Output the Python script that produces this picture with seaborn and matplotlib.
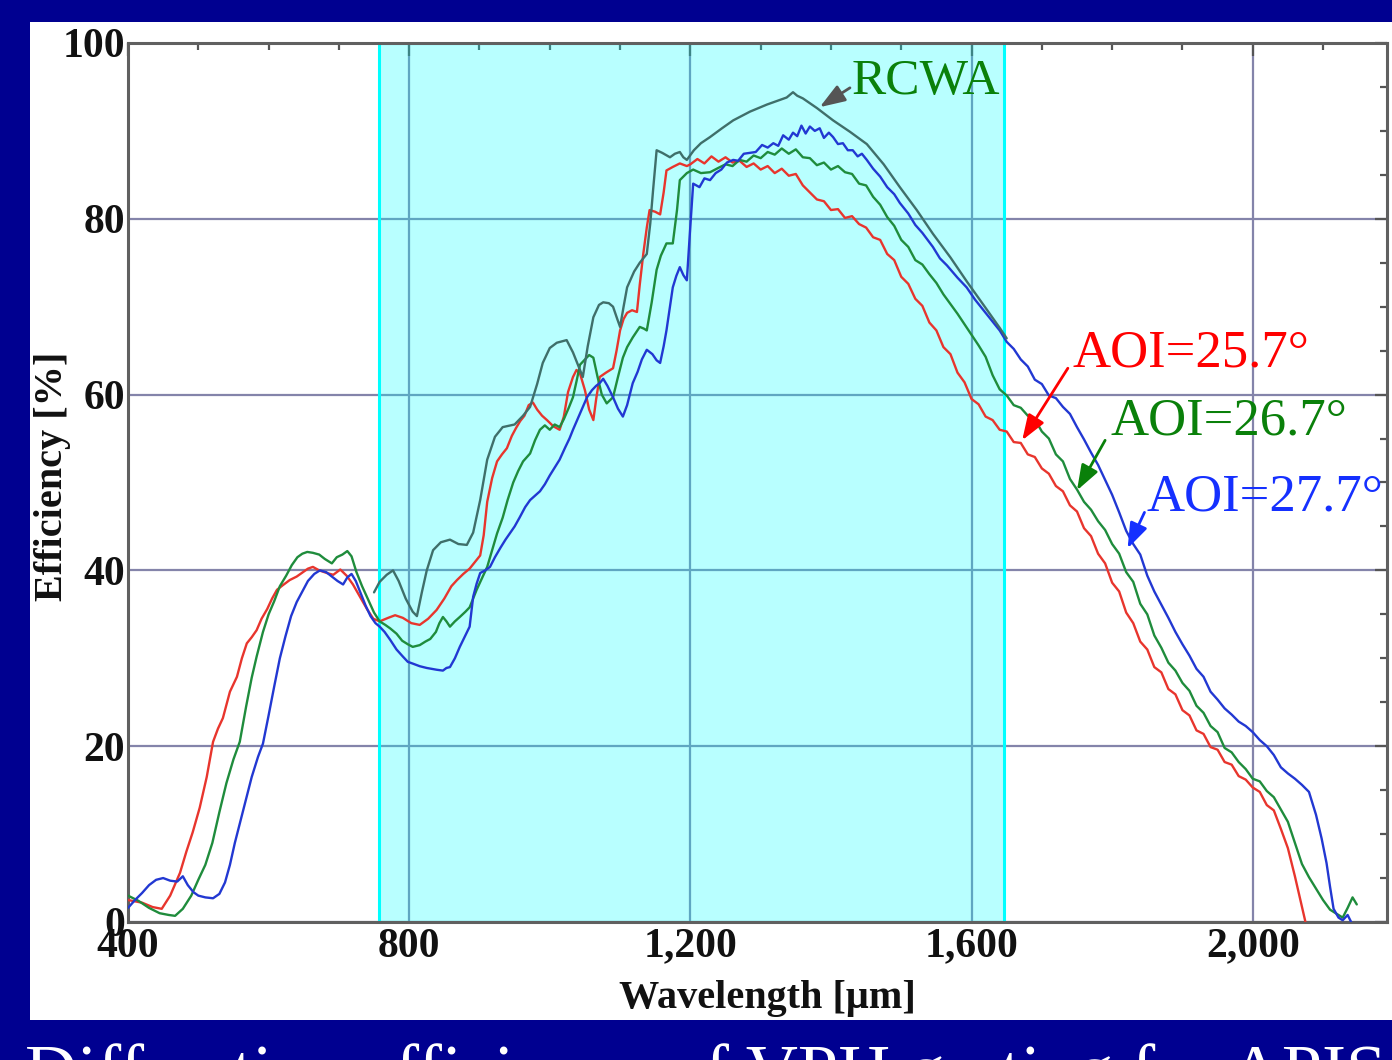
import numpy as np
import pandas as pd
import matplotlib
matplotlib.use("Agg")
import matplotlib.pyplot as plt
from matplotlib.patches import Rectangle
from matplotlib.ticker import MultipleLocator, FixedLocator, FixedFormatter
import seaborn as sns

# ---------------- data ----------------
red_wl = [400, 420, 435, 448, 460, 474, 483, 492, 502, 512, 521, 528, 535, 545, 555, 562, 569, 576, 583, 590,
          598, 605, 612, 620, 630, 640, 649, 656, 663, 672, 683, 692, 702, 711, 720, 730, 740, 749, 758, 770,
          780, 791, 803, 815, 827, 839, 850, 860, 868, 877, 886, 893, 901, 906, 911, 918, 925, 932, 939, 946,
          952, 958, 964, 970, 976, 982, 989, 996, 1005, 1014, 1020, 1026, 1033, 1038, 1043, 1050, 1056, 1062,
          1066, 1071, 1080, 1090, 1095, 1100, 1105, 1110, 1117, 1124, 1128, 1133, 1138, 1142, 1150, 1157, 1162,
          1166, 1175, 1185, 1195,
          1200, 1210, 1220, 1230, 1240, 1250, 1260, 1270, 1280, 1290, 1300, 1310, 1320, 1330, 1340, 1350, 1360,
          1370, 1380, 1390, 1400, 1410, 1420, 1430, 1440, 1450, 1460, 1470, 1480, 1490, 1500, 1510, 1520, 1530,
          1540, 1550, 1560, 1570, 1580, 1590, 1600, 1610, 1620, 1630, 1640, 1650, 1660, 1670, 1680, 1690, 1700,
          1710, 1720, 1730, 1740, 1750, 1760, 1770, 1780, 1790, 1800, 1810, 1820, 1830, 1840, 1850, 1860, 1870,
          1880, 1890, 1900, 1910, 1920, 1930, 1940, 1950, 1960, 1970, 1980, 1990, 2000, 2010, 2020, 2030, 2040,
          2050, 2060, 2068, 2075]
red_eff = [2.5, 2.2, 1.7, 1.5, 3.0, 5.6, 8.0, 10.2, 13.0, 16.5, 20.5, 22.0, 23.2, 26.2, 27.9, 30.0, 31.7, 32.4, 33.2, 34.5,
           35.6, 36.8, 37.8, 38.3, 38.9, 39.3, 39.8, 40.2, 40.4, 40.0, 39.7, 39.5, 40.1, 39.4, 38.4, 37.0, 35.6, 34.5, 34.2, 34.6,
           34.9, 34.6, 34.0, 33.8, 34.5, 35.5, 36.8, 38.2, 38.9, 39.6, 40.2, 40.9, 41.7, 44.0, 47.8, 50.5, 52.4, 53.2, 53.9, 55.3,
           56.2, 57.0, 57.6, 58.8, 59.1, 58.3, 57.6, 57.1, 56.4, 56.0, 57.5, 60.3, 62.0, 62.8, 62.4, 60.5, 58.3, 57.1,
           59.5, 62.0, 62.5, 63.0, 65.0, 67.3, 68.6, 69.3, 69.6, 69.4, 72.5, 76.0, 79.0, 81.0, 80.8, 80.5, 83.0,
           85.5, 85.9, 86.3, 86.0,
           86.2, 86.8, 86.3, 87.1, 86.5, 87.0, 86.4, 86.6, 85.9, 86.3, 85.6, 86.0, 85.2, 85.7, 84.9, 85.1, 83.8,
           83.0, 82.2, 82.0, 81.0, 81.1, 80.1, 80.3, 79.4, 79.0, 77.9, 77.6, 76.0, 75.3, 73.4, 72.6, 70.9, 70.1,
           68.2, 67.3, 65.4, 64.6, 62.5, 61.4, 59.5, 58.9, 57.5, 57.1, 56.0, 55.8, 54.6, 54.5, 53.2, 52.9, 51.6,
           51.0, 49.6, 49.0, 47.4, 46.7, 44.8, 43.9, 41.9, 40.8, 38.6, 37.6, 35.2, 34.0, 31.9, 31.0, 29.0, 28.4,
           26.5, 25.9, 24.1, 23.5, 21.8, 21.4, 19.9, 19.6, 18.2, 17.9, 16.6, 16.2, 15.3, 14.8, 13.3, 12.7, 10.6,
           8.4, 5.2, 2.4, 0.0]

green_wl = [400, 415, 430, 445, 458, 467, 478, 490, 500, 510, 520, 530, 540, 550, 559, 568, 576, 583, 592, 600,
            608, 616, 625, 633, 641, 648, 655, 663, 672, 680, 690, 697, 705, 712, 718, 725, 733, 742, 750, 758,
            766, 773, 782, 790, 798, 805, 815, 823, 830, 838, 843, 848, 853, 858, 865, 872, 880, 886, 891, 896,
            903, 911, 918, 925, 933, 940, 948, 955, 962, 972, 979, 986, 993, 1000, 1007, 1014, 1020, 1027, 1033,
            1038, 1043, 1050, 1056, 1062, 1068, 1074, 1081, 1090, 1097, 1104, 1110, 1118, 1128, 1134, 1138, 1145,
            1152, 1158, 1166, 1175, 1181, 1185, 1195, 1204, 1215, 1228,
            1240, 1250, 1260, 1270, 1280, 1290, 1300, 1310, 1320, 1330, 1340, 1350, 1360, 1370, 1380, 1390, 1400,
            1410, 1420, 1430, 1440, 1450, 1460, 1470, 1480, 1490, 1500, 1510, 1520, 1530, 1540, 1550, 1560, 1570,
            1580, 1590, 1600, 1610, 1620, 1630, 1640, 1650, 1660, 1670, 1680, 1690, 1700, 1710, 1720, 1730, 1740,
            1750, 1760, 1770, 1780, 1790, 1800, 1810, 1820, 1830, 1840, 1850, 1860, 1870, 1880, 1890, 1900, 1910,
            1920, 1930, 1940, 1950, 1960, 1970, 1980, 1990, 2000, 2010, 2020, 2030, 2040, 2050, 2060, 2070, 2080,
            2090, 2100, 2110, 2120, 2128, 2135, 2142, 2148]
green_eff = [3.0, 2.4, 1.6, 1.0, 0.8, 0.7, 1.5, 3.0, 4.8, 6.5, 9.0, 12.5, 15.8, 18.5, 20.5, 24.5, 27.8, 30.2, 33.0, 35.0,
             36.5, 38.2, 39.4, 40.6, 41.5, 41.9, 42.1, 42.0, 41.8, 41.3, 40.8, 41.5, 41.8, 42.2, 41.6, 39.8, 38.2, 36.6, 35.2, 34.2,
             33.8, 33.4, 32.8, 32.0, 31.6, 31.3, 31.5, 31.9, 32.2, 33.0, 34.0, 34.7, 34.2, 33.6, 34.2, 34.7, 35.3, 35.8, 36.8, 37.8,
             39.0, 40.4, 42.3, 44.2, 46.0, 48.0, 50.0, 51.3, 52.4, 53.3, 54.8, 56.0, 56.5, 56.0, 56.6, 56.3, 57.2, 58.5, 59.7,
             61.5, 63.4, 64.0, 64.5, 64.2, 62.0, 60.0, 59.0, 59.7, 62.0, 64.2, 65.4, 66.5, 67.7, 67.5, 67.3, 70.5,
             74.2, 75.8, 77.2, 77.2, 81.0, 84.4, 85.2, 85.6, 85.2, 85.3,
             85.8, 86.2, 86.0, 86.7, 86.5, 87.2, 86.9, 87.6, 87.3, 88.0, 87.4, 87.9, 87.0, 86.9, 86.1, 86.4, 85.6,
             86.0, 85.3, 85.1, 84.0, 83.8, 82.5, 81.6, 80.2, 79.2, 77.6, 76.8, 75.3, 74.8, 73.7, 72.7, 71.4, 70.3,
             69.2, 68.0, 66.8, 65.6, 64.3, 62.2, 60.6, 59.9, 58.8, 58.5, 57.6, 57.2, 55.8, 55.0, 53.2, 52.4, 50.4,
             49.2, 47.8, 46.9, 45.6, 44.6, 43.0, 41.9, 39.8, 38.7, 36.2, 35.0, 32.6, 31.2, 29.5, 28.6, 27.2, 26.3,
             24.6, 23.8, 22.3, 21.6, 19.8, 19.3, 18.2, 17.4, 16.3, 16.0, 14.9, 14.2, 12.8, 11.4, 9.0, 6.6, 5.1,
             3.8, 2.5, 1.4, 0.9, 0.5, 1.6, 2.8, 2.0]

blue_wl = [400, 410, 420, 430, 440, 450, 460, 470, 478, 485, 493, 500, 510, 521, 530, 538, 545, 552, 560, 568,
           576, 585, 592, 600, 608, 616, 624, 632, 640, 648, 656, 665, 673, 682, 690, 698, 706, 712, 718, 724,
           730, 738, 745, 752, 758, 765, 773, 782, 791, 798, 805, 815, 825, 832, 839, 848, 853, 858, 865, 872,
           880, 886, 891, 896, 901, 908, 915, 922, 930, 937, 943, 950, 957, 965, 972, 979, 986, 993, 1000, 1007,
           1014, 1022, 1028, 1033, 1040, 1047, 1053, 1060, 1066, 1071, 1076, 1082, 1090, 1097, 1104, 1110, 1118,
           1125, 1131, 1138, 1146, 1152, 1157, 1162, 1166, 1171, 1175, 1180, 1185, 1190, 1195, 1199, 1204, 1213,
           1220, 1228, 1236, 1244, 1252, 1261, 1268, 1276, 1285, 1293, 1302, 1310, 1318, 1325, 1332, 1340, 1346,
           1352, 1358, 1364, 1370, 1377, 1384, 1390, 1397, 1403, 1410, 1417, 1424, 1431, 1438, 1444, 1451, 1460,
           1470, 1480, 1490, 1498, 1510, 1520, 1530, 1545, 1555, 1565, 1580, 1593, 1605, 1615, 1628, 1640, 1650,
           1660, 1670, 1680, 1690, 1700, 1710, 1720, 1730, 1740, 1750, 1760, 1770, 1780, 1790, 1800, 1810, 1820,
           1830, 1840, 1850, 1860, 1870, 1880, 1890, 1900, 1910, 1920, 1930, 1940, 1950, 1960, 1970, 1980, 1990,
           2000, 2010, 2020, 2030, 2040, 2050, 2060, 2070, 2080, 2090, 2098, 2105, 2110, 2115, 2122, 2128, 2135,
           2140]
blue_eff = [1.6, 2.5, 3.3, 4.2, 4.8, 5.0, 4.7, 4.6, 5.2, 4.2, 3.4, 3.0, 2.8, 2.7, 3.2, 4.5, 6.5, 9.0, 11.5, 14.0,
            16.5, 18.8, 20.3, 23.5, 26.8, 30.0, 32.5, 34.8, 36.4, 37.6, 38.8, 39.6, 40.0, 39.8, 39.3, 38.8, 38.4, 39.2, 39.6, 38.8,
            37.6, 36.0, 34.8, 34.0, 33.6, 33.0, 32.1, 31.0, 30.2, 29.6, 29.4, 29.1, 28.9, 28.8, 28.7, 28.6, 28.9, 29.0, 30.0, 31.3,
            32.6, 33.6, 37.0, 38.5, 39.7, 40.0, 40.4, 41.5, 42.6, 43.5, 44.2, 45.0, 46.0, 47.2, 48.0, 48.5, 49.0, 49.8, 50.8, 51.7,
            52.6, 54.0, 55.0, 56.0, 57.3, 58.6, 59.7, 60.5, 61.0, 61.3, 61.8, 61.0, 59.7, 58.4, 57.5, 58.8, 61.3,
            62.6, 64.0, 65.1, 64.6, 63.9, 63.6, 65.5, 67.3, 70.0, 72.2, 73.5, 74.5, 73.6, 73.0, 78.0, 84.0, 83.6,
            84.6, 84.4, 85.2, 85.6, 86.4, 86.7, 86.6, 87.4, 87.5, 87.6, 88.4, 88.1, 88.6, 88.3, 89.5, 89.0, 89.8,
            89.4, 90.6, 89.7, 90.5, 90.0, 90.3, 89.2, 89.8, 89.3, 88.5, 88.6, 87.8, 87.8, 87.1, 87.4, 86.7, 85.7,
            84.8, 83.6, 82.8, 81.8, 80.6, 79.3, 78.4, 76.8, 75.5, 74.7, 73.3, 72.2, 70.8, 69.8, 68.5, 67.3, 66.0,
            65.2, 64.0, 63.2, 61.7, 61.2, 59.9, 59.6, 58.6, 57.8, 56.3, 54.9, 53.4, 52.0, 50.3, 48.6, 46.6, 44.5,
            43.0, 41.8, 39.4, 37.6, 36.1, 34.6, 33.0, 31.6, 30.3, 28.8, 27.9, 26.2, 25.3, 24.3, 23.6, 22.8, 22.3,
            21.6, 20.7, 20.0, 19.0, 17.6, 16.9, 16.3, 15.6, 14.8, 12.2, 9.5, 6.7, 4.0, 1.5, 0.5, 0.2, 0.8,
            0.0]

rcwa_wl = [750, 758, 768, 777, 785, 795, 805, 811, 818, 825, 834, 845, 858, 870, 882, 891, 901, 911, 922, 933,
           950, 962, 972, 982, 990, 1000, 1010, 1024, 1033, 1043, 1047, 1054, 1062, 1070, 1076, 1084, 1090, 1096,
           1100, 1105, 1110, 1120, 1128, 1138, 1143, 1147, 1152, 1160, 1171, 1178, 1185, 1190, 1195, 1205, 1215,
           1228, 1245, 1261, 1285, 1309, 1330, 1337, 1346, 1352, 1360, 1380, 1403, 1427, 1451, 1475, 1498, 1522,
           1545, 1570, 1593, 1617, 1640, 1650]
rcwa_eff = [37.5, 38.7, 39.5, 40.0, 38.8, 36.8, 35.3, 34.8, 37.5, 40.0, 42.3, 43.2, 43.5, 43.0, 42.9, 44.3, 48.0, 52.6, 55.2, 56.3,
            56.6, 57.6, 58.6, 61.2, 63.6, 65.3, 65.9, 66.2, 64.8, 62.8, 62.0, 65.5, 68.8, 70.2, 70.5, 70.4, 70.0, 68.6,
            67.7, 70.0, 72.2, 74.0, 75.0, 76.0, 79.5, 83.3, 87.8, 87.5, 87.0, 87.4, 87.6, 87.0, 86.7, 87.8, 88.6,
            89.3, 90.3, 91.2, 92.2, 93.0, 93.6, 93.8, 94.4, 94.0, 93.7, 92.6, 91.2, 89.9, 88.5, 86.2, 83.6, 81.0,
            78.3, 75.6, 72.9, 70.2, 67.6, 66.4]

series_names = ["AOI=25.7°", "AOI=26.7°", "AOI=27.7°", "RCWA"]
band_range = [757, 1646]          # highlighted wavelength band
x_ticks = [400, 800, 1200, 1600, 2000]
x_tick_labels = ["400", "800", "1,200", "1,600", "2,000"]
y_ticks = [0, 20, 40, 60, 80, 100]

# ---------------- styling ----------------
NAVY = "#000090"
colors = {"AOI=25.7°": "#e8352d", "AOI=26.7°": "#1f8c3c", "AOI=27.7°": "#2238d2", "RCWA": "#3f6f6a"}
label_colors = {"AOI=25.7°": "#ff0000", "AOI=26.7°": "#0a800a", "AOI=27.7°": "#1530ff", "RCWA": "#0a800a"}

sns.set_theme(style="white")
plt.rcParams['font.family'] = ['Liberation Serif', 'DejaVu Serif']

df = pd.concat([
    pd.DataFrame({"wl": red_wl, "eff": red_eff, "series": series_names[0]}),
    pd.DataFrame({"wl": green_wl, "eff": green_eff, "series": series_names[1]}),
    pd.DataFrame({"wl": blue_wl, "eff": blue_eff, "series": series_names[2]}),
    pd.DataFrame({"wl": rcwa_wl, "eff": rcwa_eff, "series": series_names[3]}),
], ignore_index=True)

W, H = 1392, 1060
fig = plt.figure(figsize=(W / 100, H / 100), dpi=100, facecolor=NAVY)
# white slide panel behind the chart
fig.patches.append(Rectangle((30 / W, 40 / H), 1 - 30 / W, 998 / H, transform=fig.transFigure,
                             facecolor="white", edgecolor="none", zorder=-5))

ax = fig.add_axes([128 / W, 138 / H, (1387 - 128) / W, (922 - 43) / H])
ax.set_zorder(2)
ax.set_facecolor("none")

sns.lineplot(data=df, x="wl", y="eff", hue="series", palette=colors, estimator=None, sort=False,
             legend=False, lw=1.7, ax=ax, zorder=3)

ax.set_xlim(400, 2191)
ax.set_ylim(0, 100)

# highlighted band
ax.add_patch(Rectangle((band_range[0], 0), band_range[1] - band_range[0], 100,
                       facecolor=(0, 1, 1, 0.28), edgecolor="none", zorder=1))
ax.add_patch(Rectangle((band_range[0], 0), band_range[1] - band_range[0], 100,
                       facecolor="none", edgecolor="#00ffff", lw=2.2, zorder=2.5))

# grid & ticks
ax.set_axisbelow(True)
ax.grid(True, which="major", color="#8484aa", lw=1.6, zorder=0.5)
ax.xaxis.set_major_locator(FixedLocator(x_ticks))
ax.xaxis.set_major_formatter(FixedFormatter(x_tick_labels))
ax.xaxis.set_minor_locator(MultipleLocator(100))
ax.yaxis.set_major_locator(FixedLocator(y_ticks))
ax.yaxis.set_minor_locator(MultipleLocator(5))
ax.tick_params(which="both", direction="in", top=True, right=True, colors="#555555",
               labelcolor="#111111", width=1.6)
ax.tick_params(which="major", length=9, labelsize=30, pad=4)
ax.tick_params(which="minor", length=5)
for lab in ax.get_xticklabels() + ax.get_yticklabels():
    lab.set_fontweight("bold")
ax.tick_params(axis="y", pad=2)
for sp in ax.spines.values():
    sp.set_color("#606060")
    sp.set_linewidth(2.2)
    sp.set_visible(True)

ax.set_xlabel("Wavelength [μm]", fontsize=29, fontweight="bold", color="#111111")
ax.set_ylabel("Efficiency [%]", fontsize=29, fontweight="bold", color="#111111")
ax.xaxis.set_label_coords(0.508, -0.066)
ax.yaxis.set_label_coords(-0.045, 0.507)

# annotations
ax.text(1430, 95.6, "RCWA", color=label_colors["RCWA"], fontsize=37, ha="left", va="center")
ax.annotate("", xy=(1384, 92.7), xytext=(1427, 94.9),
            arrowprops=dict(arrowstyle="-|>,head_length=0.7,head_width=0.25", color="#555555", lw=2,
                            mutation_scale=22, shrinkA=0, shrinkB=0), annotation_clip=False)

ann = [("AOI=25.7°", (1743, 64.7), (1672, 54.8), (1737, 63.0)),
       ("AOI=26.7°", (1797, 56.9), (1750, 49.1), (1790, 54.8)),
       ("AOI=27.7°", (1849, 48.3), (1822, 42.5), (1846, 46.6))]
for name, tpos, tip, start in ann:
    ax.text(tpos[0], tpos[1], name, color=label_colors[name], fontsize=38, ha="left", va="center")
    ax.annotate("", xy=tip, xytext=start,
                arrowprops=dict(arrowstyle="-|>,head_length=0.7,head_width=0.25", color=label_colors[name],
                                lw=2, mutation_scale=22, shrinkA=0, shrinkB=0), annotation_clip=False)

# slide caption cut off at the bottom edge
fig.text(25 / W, -34 / H, "Diffraction efficiency of VPH grating for APIS", color="white",
         fontsize=52, ha="left", va="baseline")

fig.savefig("out.png", dpi=100, facecolor=NAVY)
